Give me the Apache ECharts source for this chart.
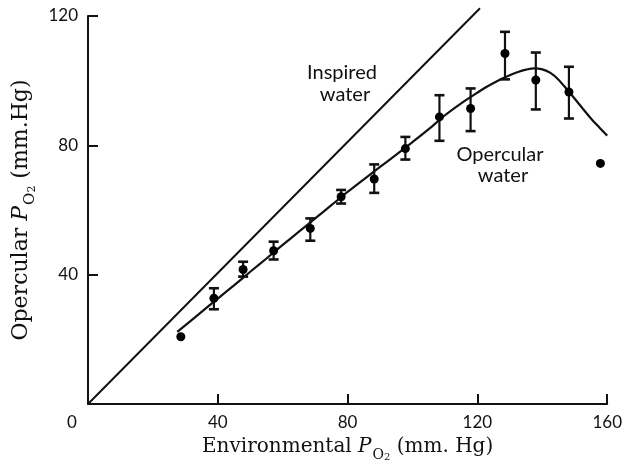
<!DOCTYPE html>
<html><head><meta charset="utf-8">
<script src="https://cdn.jsdelivr.net/npm/echarts@6/dist/echarts.min.js"></script>
<style>html,body{margin:0;padding:0;background:#fff}#c{width:625px;height:469px}</style>
</head><body><div id="c"></div>
<script>
// Data
const xTicks = [0, 40, 80, 120, 160];
const yTicks = [0, 40, 80, 120];
// measured points: [environmental PO2, opercular PO2]
const points = [
  [28.6, 20.8], [38.8, 32.7], [47.8, 41.6], [57.2, 47.4], [68.5, 54.3],
  [78.0, 64.1], [88.2, 69.6], [97.8, 79.0], [108.3, 88.8], [117.9, 91.4],
  [128.5, 108.4], [138.0, 100.2], [148.2, 96.5], [157.9, 74.4]
];
// error bars: [x, low, high]
const errorBars = [
  [38.8, 29.3, 35.8], [47.8, 39.4, 44.0], [57.2, 44.7, 50.2], [68.5, 50.5, 57.4],
  [78.0, 62.0, 66.2], [88.2, 65.3, 74.1], [97.8, 75.6, 82.6], [108.3, 81.4, 95.5],
  [117.9, 84.4, 97.6], [128.5, 100.4, 115.1], [138.0, 91.1, 108.7], [148.2, 88.3, 104.3]
];
// fitted opercular water curve
const opercularCurve = [
  [27.5, 22.3], [35, 28.5], [40, 32.6], [45, 36.7], [50, 40.9], [55, 45.0],
  [60, 49.2], [65, 53.3], [70, 57.4], [75, 61.5], [80, 65.6], [85, 69.5],
  [90, 73.3], [95, 77.1], [100, 81.0], [105, 85.0], [110, 89.3], [115, 93.0],
  [120, 96.3], [122.5, 97.9], [125, 99.3], [127.5, 100.6], [130, 101.7],
  [132.5, 102.7], [135, 103.4], [137.5, 103.8], [140, 103.5], [142.5, 102.4],
  [145, 100.3], [147.5, 97.4], [150, 94.4], [152.5, 91.3], [155, 88.3],
  [157.5, 85.6], [160, 83.0]
];
// inspired water line
const inspiredLine = [[0, 0], [120.8, 122.4]];

const serif = 'DejaVu Serif';
const sans = 'Lato';
const chart = echarts.init(document.getElementById('c'), null, {renderer: 'canvas'});
function nameRich(fs) {
  return {
    n: {fontFamily: serif, fontSize: fs, color: '#111'},
    i: {fontFamily: serif, fontSize: fs, fontStyle: 'italic', color: '#111'},
    s: {fontFamily: serif, fontSize: Math.round(fs * 0.68), color: '#111', verticalAlign: 'bottom', padding: [Math.round(fs * 0.8), 0, 0, 1]},
    t: {fontFamily: serif, fontSize: Math.round(fs * 0.5), color: '#111', verticalAlign: 'bottom', padding: [0, 0, 0, 0]}
  };
}
chart.setOption({
  animation: false,
  grid: {left: 88, right: 15, top: 16, bottom: 65},
  xAxis: {
    type: 'value', min: 0, max: 160, interval: 40,
    axisLine: {lineStyle: {color: '#111', width: 2}},
    axisTick: {inside: true, length: 10, lineStyle: {color: '#111', width: 2}},
    splitLine: {show: false},
    axisLabel: {
      margin: 10, color: '#111', fontFamily: sans, fontSize: 17,
      formatter: v => xTicks.includes(v) ? (v === 0 ? '{z|0}' : String(v)) : '',
      rich: {z: {fontFamily: sans, fontSize: 17, color: '#111', padding: [0, 32, 0, 0]}}
    },
    name: '{n|Environmental }{i|P}{s|O}{t|2}{n| (mm. Hg)}',
    nameLocation: 'middle', nameGap: 28,
    nameTextStyle: {rich: nameRich(20)}
  },
  yAxis: {
    type: 'value', min: 0, max: 120, interval: 40,
    axisLine: {lineStyle: {color: '#111', width: 2}},
    axisTick: {inside: true, length: 10, lineStyle: {color: '#111', width: 2}},
    splitLine: {show: false},
    axisLabel: {
      margin: 10, color: '#111', fontFamily: sans, fontSize: 17,
      formatter: v => (v === 0 || !yTicks.includes(v)) ? '' : String(v)
    },
    name: '{n|Opercular }{i|P}{s|O}{t|2}{n| (mm.Hg)}',
    nameLocation: 'middle', nameGap: 48,
    nameTextStyle: {rich: nameRich(22)}
  },
  series: [
    {
      type: 'line', data: inspiredLine, symbol: 'none', clip: false,
      lineStyle: {color: '#111', width: 2}, z: 2
    },
    {
      type: 'line', data: opercularCurve, symbol: 'none', smooth: 0.3,
      lineStyle: {color: '#111', width: 2.2}, z: 2
    },
    {
      type: 'custom', data: errorBars, z: 3,
      renderItem: function (params, api) {
        const x = api.value(0);
        const lo = api.coord([x, api.value(1)]);
        const hi = api.coord([x, api.value(2)]);
        const cap = 5;
        const st = {stroke: '#111', lineWidth: 2.2};
        const cs = {stroke: '#111', lineWidth: 2.6};
        return {
          type: 'group', children: [
            {type: 'line', shape: {x1: lo[0], y1: lo[1], x2: hi[0], y2: hi[1]}, style: st},
            {type: 'line', shape: {x1: lo[0] - cap, y1: lo[1], x2: lo[0] + cap, y2: lo[1]}, style: cs},
            {type: 'line', shape: {x1: hi[0] - cap, y1: hi[1], x2: hi[0] + cap, y2: hi[1]}, style: cs}
          ]
        };
      }
    },
    {
      type: 'scatter', data: points, symbol: 'circle', symbolSize: 9,
      itemStyle: {color: '#000', opacity: 1}, z: 4
    }
  ],
  graphic: [
    {type: 'text', style: {x: 342, y: 73, text: 'Inspired', font: '20px Lato', fill: '#111', textAlign: 'center', textVerticalAlign: 'middle'}},
    {type: 'text', style: {x: 345, y: 95, text: 'water', font: '20px Lato', fill: '#111', textAlign: 'center', textVerticalAlign: 'middle'}},
    {type: 'text', style: {x: 500, y: 155, text: 'Opercular', font: '20px Lato', fill: '#111', textAlign: 'center', textVerticalAlign: 'middle'}},
    {type: 'text', style: {x: 503, y: 176, text: 'water', font: '20px Lato', fill: '#111', textAlign: 'center', textVerticalAlign: 'middle'}}
  ]
});
</script>
</body></html>
